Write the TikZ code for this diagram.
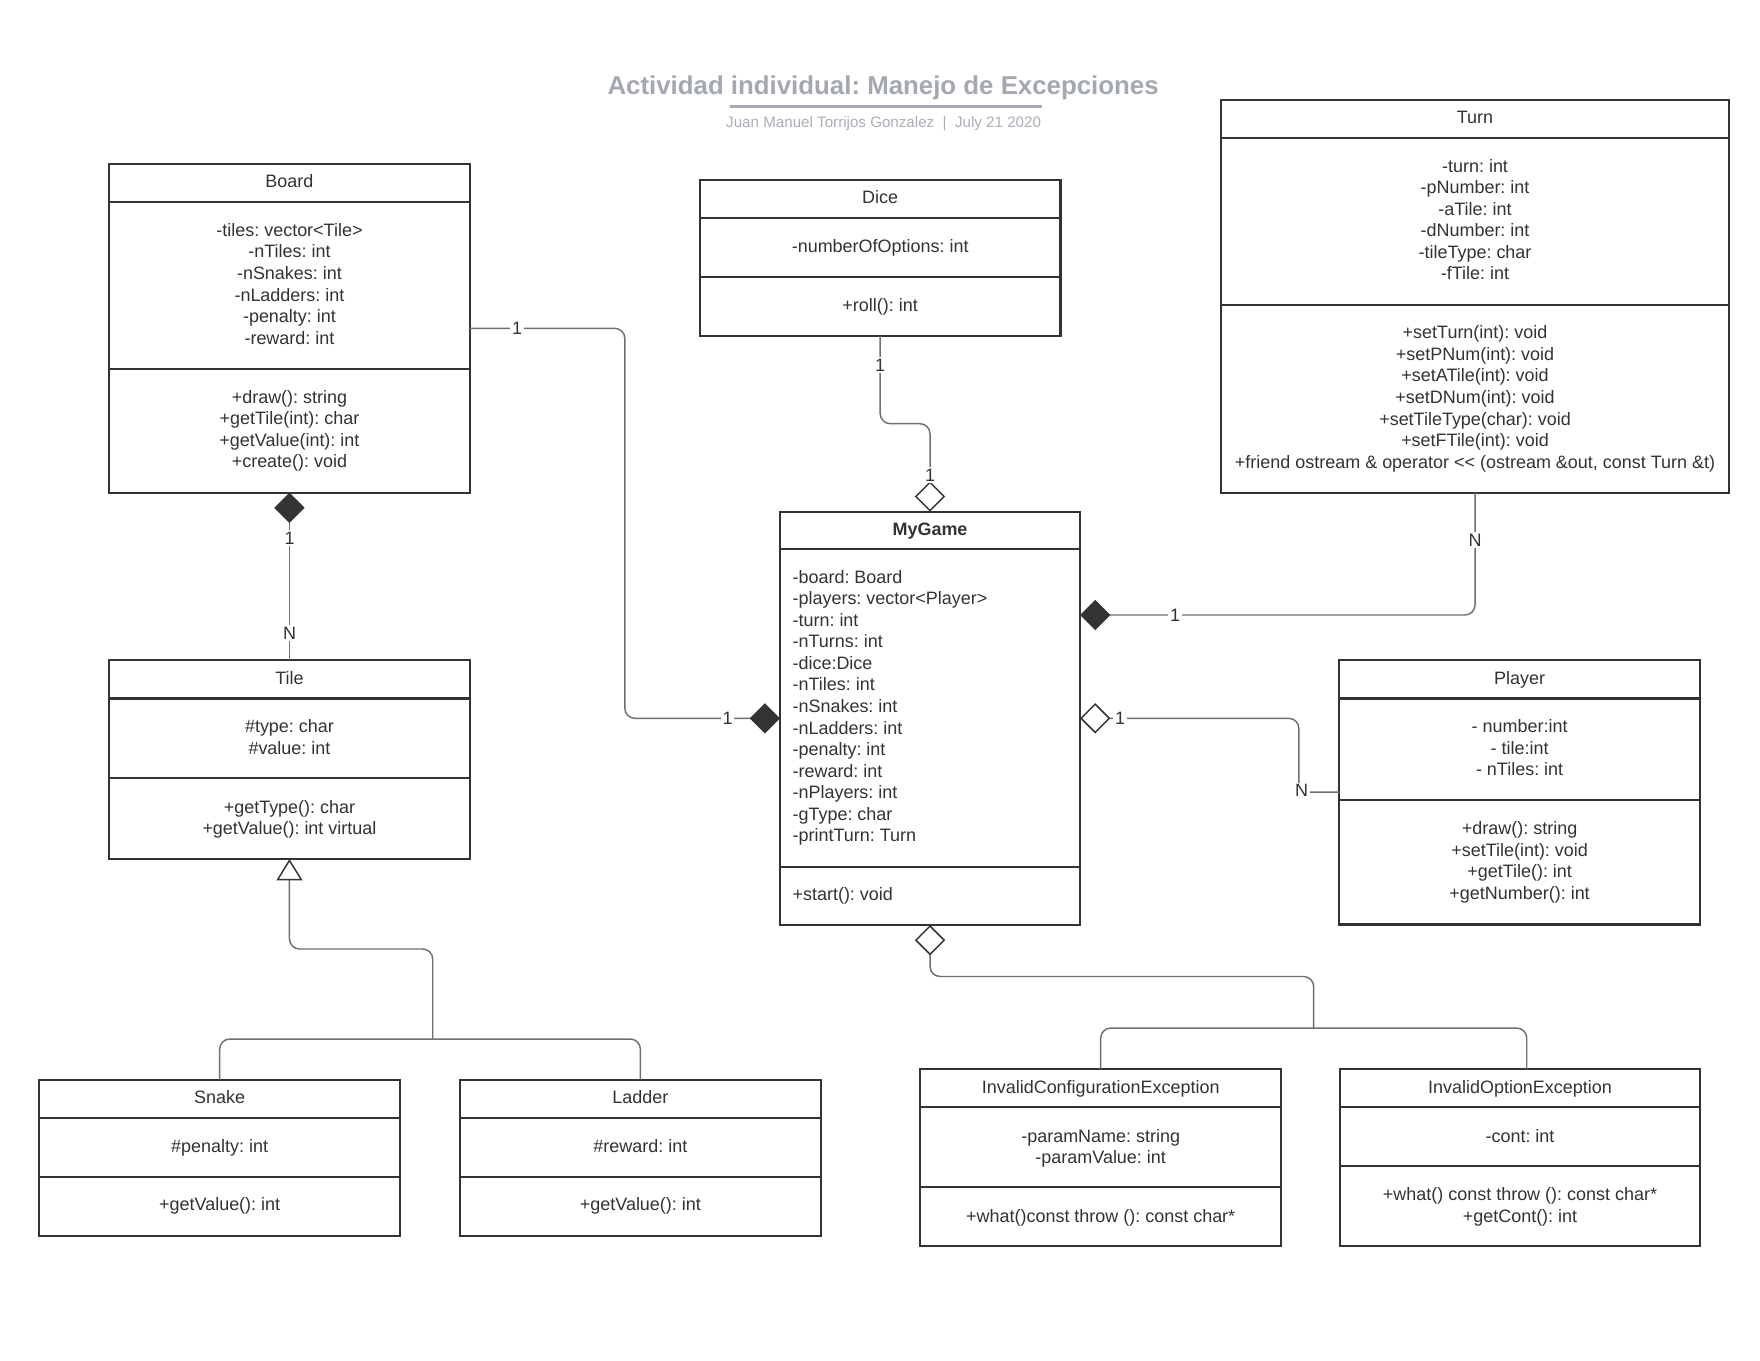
\documentclass[tikz,border=0pt]{standalone}
\usepackage{fontspec}
\setmainfont{Liberation Sans}
\usepackage{tikz}
\usetikzlibrary{calc}
\usetikzlibrary{positioning}
\usetikzlibrary{arrows.meta}

\definecolor{umldark}{HTML}{333333}
\definecolor{conngray}{HTML}{707070}
\definecolor{titlegray}{HTML}{A4A8B0}
\definecolor{subgray}{HTML}{AAAEB5}

\frenchspacing

\begin{document}
\begin{tikzpicture}[%
  x=1pt, y=-1pt,
  classbox/.style={draw=umldark, line width=2pt, fill=white, inner sep=0pt, outer sep=0pt, anchor=north west},
  sepline/.style={draw=umldark, line width=2pt},
  member/.style={anchor=north, inner sep=0pt, align=center, text=umldark, font=\fontsize{16}{19.2}\selectfont},
  conn/.style={draw=conngray, line width=1.3pt, rounded corners=9pt},
  mult/.style={fill=white, inner sep=1.5pt, text=umldark, font=\fontsize{16}{19.2}\selectfont},
  composition/.style={-{Diamond[length=27pt, width=27pt, color=umldark, fill=umldark]}},
  aggregation/.style={-{Diamond[open, length=27pt, width=27pt, color=umldark, fill=white]}},
  inherit/.style={-{Triangle[open, length=19pt, width=23pt, color=umldark, fill=white]}},
]

  \fill[white] (0,0) rectangle (1567.5,1211.3);
  \useasboundingbox (0,0) rectangle (1567.5,1211.3);

  % header
  \node[anchor=base, text=titlegray, font=\fontsize{23}{27.6}\selectfont\bfseries] (title) at (786.5,84.6) {Actividad individual: Manejo de Excepciones};
  \draw[titlegray, line width=2.5pt] (650.5,95) -- (928,95);
  \node[anchor=base, text=subgray, font=\fontsize{13.5}{16.2}\selectfont] (subtitle) at (787,113.4) {Juan Manuel Torrijos Gonzalez\ \ |\ \ July 21 2020};

  % Board
  \node[classbox, minimum width=321pt, minimum height=292.8pt] (board) at (97.3,146) {};
  \draw[sepline] ([yshift=-33.9pt]board.north west) -- ([yshift=-33.9pt]board.north east);
  \draw[sepline] ([yshift=-182.6pt]board.north west) -- ([yshift=-182.6pt]board.north east);
  \node[member, below=7.6pt of board.north] (board-name) {\strut Board};
  \node[member, below=50.9pt of board.north] (board-attr) {\strut -tiles: vector<Tile>\\-nTiles: int\\-nSnakes: int\\-nLadders: int\\-penalty: int\\-reward: int};
  \node[member, below=199.4pt of board.north] (board-meth) {\strut +draw(): string\\+getTile(int): char\\+getValue(int): int\\+create(): void};

  % Dice
  \node[classbox, minimum width=321pt, minimum height=139pt] (dice) at (623.4,160) {};
  \draw[sepline] ([yshift=-34.2pt]dice.north west) -- ([yshift=-34.2pt]dice.north east);
  \draw[sepline] ([yshift=-86.7pt]dice.north west) -- ([yshift=-86.7pt]dice.north east);
  \node[member, below=7.9pt of dice.north] (dice-name) {\strut Dice};
  \node[member, below=51.5pt of dice.north] (dice-attr) {\strut -numberOfOptions: int};
  \node[member, below=103.7pt of dice.north] (dice-meth) {\strut +roll(): int};

  % Turn
  \node[classbox, minimum width=453pt, minimum height=349.7pt] (turn) at (1087.2,89.1) {};
  \draw[sepline] ([yshift=-33.5pt]turn.north west) -- ([yshift=-33.5pt]turn.north east);
  \draw[sepline] ([yshift=-182.5pt]turn.north west) -- ([yshift=-182.5pt]turn.north east);
  \node[member, below=6.9pt of turn.north] (turn-name) {\strut Turn};
  \node[member, below=50.6pt of turn.north] (turn-attr) {\strut -turn: int\\-pNumber: int\\-aTile: int\\-dNumber: int\\-tileType: char\\-fTile: int};
  \node[member, below=199pt of turn.north] (turn-meth) {\strut +setTurn(int): void\\+setPNum(int): void\\+setATile(int): void\\+setDNum(int): void\\+setTileType(char): void\\+setFTile(int): void\\+friend ostream \& operator <\kern0pt< (ostream \&out, const Turn \&t)};

  % MyGame
  \node[classbox, minimum width=267.2pt, minimum height=368.1pt] (mygame) at (694.7,455.7) {};
  \draw[sepline] ([yshift=-33.3pt]mygame.north west) -- ([yshift=-33.3pt]mygame.north east);
  \draw[sepline] ([yshift=-316.5pt]mygame.north west) -- ([yshift=-316.5pt]mygame.north east);
  \node[member, font=\fontsize{16}{19.2}\selectfont\bfseries, below=7.6pt of mygame.north] (mygame-name) {\strut MyGame};
  \node[member, align=left, below right=50pt and 11pt of mygame.north west] (mygame-attr) {\strut -board: Board\\-players: vector<Player>\\-turn: int\\-nTurns: int\\-dice:Dice\\-nTiles: int\\-nSnakes: int\\-nLadders: int\\-penalty: int\\-reward: int\\-nPlayers: int\\-gType: char\\-printTurn: Turn};
  \node[member, align=left, below right=332.6pt and 11pt of mygame.north west] (mygame-meth) {\strut +start(): void};

  % Tile
  \node[classbox, minimum width=321pt, minimum height=177pt] (tile) at (97.3,588) {};
  \draw[sepline] ([yshift=-34pt]tile.north west) -- ([yshift=-34pt]tile.north east);
  \draw[sepline] ([yshift=-105pt]tile.north west) -- ([yshift=-105pt]tile.north east);
  \node[member, below=7.7pt of tile.north] (tile-name) {\strut Tile};
  \node[member, below=50.7pt of tile.north] (tile-attr) {\strut \#type: char\\\#value: int};
  \node[member, below=122.7pt of tile.north] (tile-meth) {\strut +getType(): char\\+getValue(): int virtual};

  % Player
  \node[classbox, minimum width=321.2pt, minimum height=235.5pt] (player) at (1192.8,587.8) {};
  \draw[sepline] ([yshift=-34.2pt]player.north west) -- ([yshift=-34.2pt]player.north east);
  \draw[sepline] ([yshift=-124.6pt]player.north west) -- ([yshift=-124.6pt]player.north east);
  \node[member, below=7.9pt of player.north] (player-name) {\strut Player};
  \node[member, below=50.9pt of player.north] (player-attr) {\strut - number:int\\- tile:int\\- nTiles: int};
  \node[member, below=141.9pt of player.north] (player-meth) {\strut +draw(): string\\+setTile(int): void\\+getTile(): int\\+getNumber(): int};

  % Snake
  \node[classbox, minimum width=321.3pt, minimum height=139.2pt] (snake) at (35,961.6) {};
  \draw[sepline] ([yshift=-33.9pt]snake.north west) -- ([yshift=-33.9pt]snake.north east);
  \draw[sepline] ([yshift=-86.7pt]snake.north west) -- ([yshift=-86.7pt]snake.north east);
  \node[member, below=7.8pt of snake.north] (snake-name) {\strut Snake};
  \node[member, below=50.9pt of snake.north] (snake-attr) {\strut \#penalty: int};
  \node[member, below=102.8pt of snake.north] (snake-meth) {\strut +getValue(): int};

  % Ladder
  \node[classbox, minimum width=321.3pt, minimum height=139.2pt] (ladder) at (409.7,961.6) {};
  \draw[sepline] ([yshift=-33.9pt]ladder.north west) -- ([yshift=-33.9pt]ladder.north east);
  \draw[sepline] ([yshift=-86.7pt]ladder.north west) -- ([yshift=-86.7pt]ladder.north east);
  \node[member, below=7.8pt of ladder.north] (ladder-name) {\strut Ladder};
  \node[member, below=50.9pt of ladder.north] (ladder-attr) {\strut \#reward: int};
  \node[member, below=102.8pt of ladder.north] (ladder-meth) {\strut +getValue(): int};

  % InvalidConfigurationException
  \node[classbox, minimum width=321.4pt, minimum height=157.3pt] (configexc) at (819.6,952.1) {};
  \draw[sepline] ([yshift=-33.5pt]configexc.north west) -- ([yshift=-33.5pt]configexc.north east);
  \draw[sepline] ([yshift=-104.9pt]configexc.north west) -- ([yshift=-104.9pt]configexc.north east);
  \node[member, below=8.4pt of configexc.north] (configexc-name) {\strut InvalidConfigurationException};
  \node[member, below=51.6pt of configexc.north] (configexc-attr) {\strut -paramName: string\\-paramValue: int};
  \node[member, below=122.6pt of configexc.north] (configexc-meth) {\strut +what()const throw (): const char*};

  % InvalidOptionException
  \node[classbox, minimum width=320.5pt, minimum height=157.3pt] (optionexc) at (1193.5,952.1) {};
  \draw[sepline] ([yshift=-33.5pt]optionexc.north west) -- ([yshift=-33.5pt]optionexc.north east);
  \draw[sepline] ([yshift=-86.1pt]optionexc.north west) -- ([yshift=-86.1pt]optionexc.north east);
  \node[member, below=8.4pt of optionexc.north] (optionexc-name) {\strut InvalidOptionException};
  \node[member, below=51.6pt of optionexc.north] (optionexc-attr) {\strut -cont: int};
  \node[member, below=103.6pt of optionexc.north] (optionexc-meth) {\strut +what() const throw (): const char*\\+getCont(): int};

  % connectors
  \coordinate (tilejoin) at (385.4,925.4);
  \coordinate (excjoin) at (1170,915.6);

  \draw[conn, composition] (board.east) -| ($(board.east)!.5!(mygame.west)$) |- (mygame.west);
  \draw[conn, aggregation] (dice.south) |- ($(dice.south)!.5!(mygame.north)$) -| (mygame.north);
  \draw[conn, composition] (turn.south) |- ($(mygame.north east)!.25!(mygame.south east)$);
  \draw[conn, aggregation] (player.west) -- ([xshift=-36pt]player.west) |- (mygame.east);
  \draw[conn, composition] (tile.north) -- (board.south);

  \draw[conn] (snake.north) |- (tilejoin) -| (ladder.north);
  \draw[conn, inherit] (tilejoin) |- ($(tile.south)!.5!(tilejoin)$) -| (tile.south);

  \draw[conn] (configexc.north) |- (excjoin) -| ([xshift=6pt]optionexc.north);
  \draw[conn, aggregation] (excjoin) |- ($(mygame.south)!.5!(excjoin)$) -| (mygame.south);

  % multiplicities
  \node[mult] (m-board-1) at (460.5,292.5) {1};
  \node[mult] (m-board-2) at (648,639.75) {1};
  \node[mult] (m-dice-1) at (783.9,325) {1};
  \node[mult] (m-dice-2) at (828.3,423) {1};
  \node[mult] (m-turn-1) at (1313.7,481) {N};
  \node[mult] (m-turn-2) at (1046.5,548) {1};
  \node[mult] (m-player-1) at (997.5,639.75) {1};
  \node[mult] (m-player-2) at (1159.3,704) {N};
  \node[mult] (m-tile-1) at (258,479) {1};
  \node[mult] (m-tile-2) at (258,564) {N};

\end{tikzpicture}
\end{document}
